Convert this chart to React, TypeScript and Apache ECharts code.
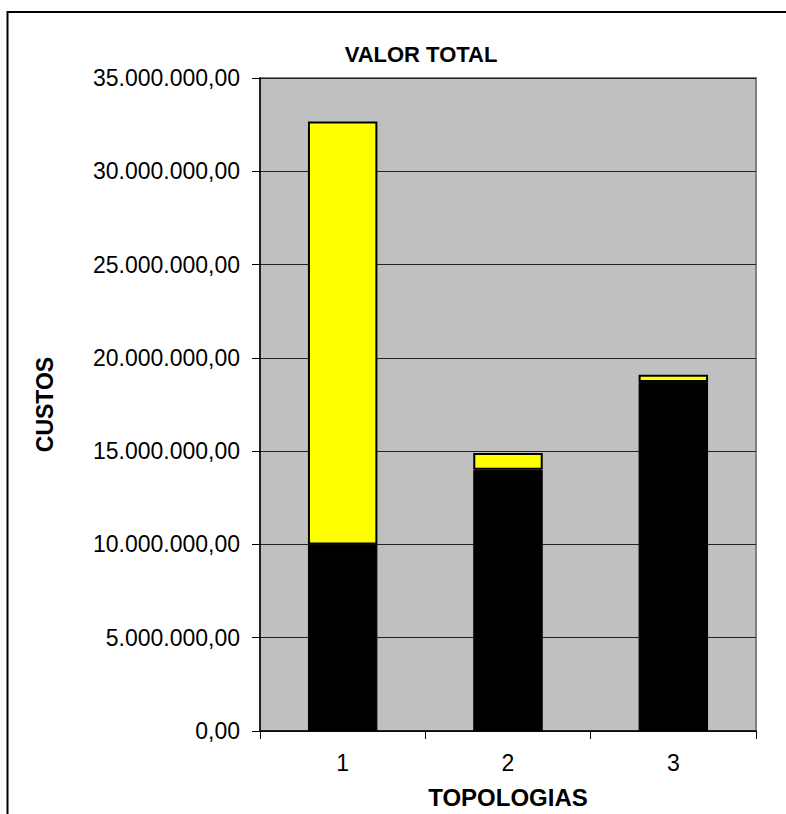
import React, { useEffect, useRef } from "react";
import * as echarts from "echarts";

const categories = ["1", "2", "3"];
const blackValues = [10000000, 14000000, 18700000];
const yellowValues = [22670000, 900000, 400000];
const yTicks = [0, 5000000, 10000000, 15000000, 20000000, 25000000, 30000000, 35000000];

const FONT = "'Liberation Sans', Arial, sans-serif";

function fmtBR(v: number): string {
  const parts = v.toFixed(2).split(".");
  const intPart = parts[0].replace(/\B(?=(\d{3})+(?!\d))/g, ".");
  return intPart + "," + parts[1];
}

export default function App() {
  const ref = useRef<HTMLDivElement>(null);
  useEffect(() => {
    document.body.style.margin = "0";
    if (!ref.current) return;
    const chart = echarts.init(ref.current, undefined, { renderer: "svg" });
    chart.setOption({
      animation: false,
      backgroundColor: "#ffffff",
      title: {
        text: "VALOR TOTAL",
        left: 416,
        top: 38,
        textAlign: "center",
        textStyle: { fontFamily: FONT, fontSize: 22, fontWeight: "bold", color: "#000" },
      },
      grid: {
        left: 260,
        top: 78,
        right: 30,
        bottom: 81,
        show: true,
        backgroundColor: "#C0C0C0",
        borderColor: "#808080",
        borderWidth: 2,
      },
      xAxis: {
        type: "category",
        data: categories,
        name: "TOPOLOGIAS",
        nameLocation: "middle",
        nameGap: 54,
        nameTextStyle: { fontFamily: FONT, fontSize: 24, fontWeight: "bold", color: "#000" },
        axisLine: { show: true, lineStyle: { color: "#000", width: 1.5 } },
        axisTick: { show: true, alignWithLabel: false, length: 8, lineStyle: { color: "#000", width: 1 } },
        axisLabel: { fontFamily: FONT, fontSize: 23, color: "#000", margin: 20 },
        splitLine: { show: false },
      },
      yAxis: {
        type: "value",
        min: 0,
        max: 35000000,
        interval: 5000000,
        name: "CUSTOS",
        nameLocation: "middle",
        nameGap: 204,
        nameRotate: 90,
        nameTextStyle: { fontFamily: FONT, fontSize: 23, fontWeight: "bold", color: "#000" },
        axisLine: { show: true, lineStyle: { color: "#000", width: 1.5 } },
        axisTick: { show: true, length: 8, lineStyle: { color: "#000", width: 1 } },
        axisLabel: {
          fontFamily: FONT,
          fontSize: 23,
          color: "#000",
          margin: 20,
          formatter: (v: number) => (yTicks.indexOf(v) >= 0 ? fmtBR(v) : ""),
        },
        splitLine: { show: true, lineStyle: { color: "#222", width: 1 } },
      },
      series: [
        {
          type: "bar",
          name: "base",
          stack: "total",
          data: blackValues,
          barWidth: "42%",
          itemStyle: { color: "#000000", borderColor: "#000000", borderWidth: 1 },
        },
        {
          type: "bar",
          name: "extra",
          stack: "total",
          data: yellowValues,
          barWidth: "42%",
          itemStyle: { color: "#FFFF00", borderColor: "#000000", borderWidth: 2 },
        },
      ],
      graphic: [
        {
          type: "polyline",
          shape: { points: [[7.5, 814], [7.5, 12], [786, 12]] },
          style: { stroke: "#000", lineWidth: 2, fill: "none" },
          silent: true,
        },
      ],
    });
    return () => chart.dispose();
  }, []);
  return <div ref={ref} style={{ width: 786, height: 814 }} />;
}
